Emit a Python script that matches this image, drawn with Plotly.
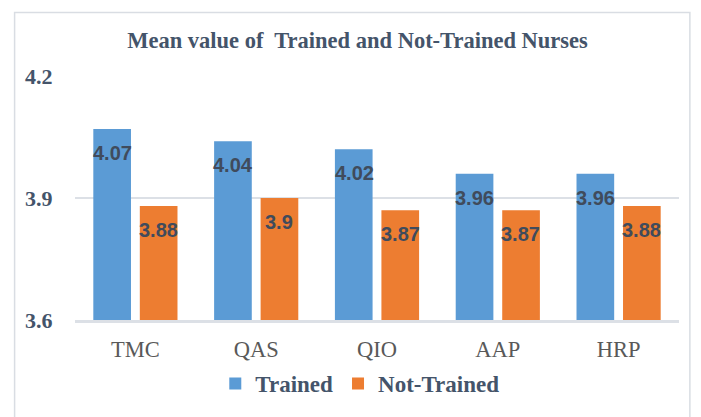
import plotly.graph_objects as go

categories = ["TMC", "QAS", "QIO", "AAP", "HRP"]
trained = [4.07, 4.04, 4.02, 3.96, 3.96]
not_trained = [3.88, 3.90, 3.87, 3.87, 3.88]
y_ticks = [3.6, 3.9, 4.2]
y_tick_labels = ["3.6", "3.9", "4.2"]

BLUE = "#5B9BD5"
ORANGE = "#ED7D31"
TXT = "#44546A"
GRID = "#DCE0E6"

fig = go.Figure()
fig.add_trace(go.Bar(name="Trained", x=categories, y=trained,
                     marker=dict(color=BLUE, line=dict(width=0))))
fig.add_trace(go.Bar(name="Not-Trained", x=categories, y=not_trained,
                     marker=dict(color=ORANGE, line=dict(width=0))))

label_font = dict(family="Liberation Sans", size=20, color="#404B5C", weight="bold")
annotations = []
for cat, v in zip(categories, trained):
    annotations.append(dict(x=cat, y=v, xref="x", yref="y", text=f"{v:g}",
                            showarrow=False, xshift=-23, yshift=-24,
                            yanchor="middle", font=label_font))
for cat, v in zip(categories, not_trained):
    annotations.append(dict(x=cat, y=v, xref="x", yref="y", text=f"{v:g}",
                            showarrow=False, xshift=23, yshift=-24,
                            yanchor="middle", font=label_font))

fig.update_layout(
    width=701, height=417,
    margin=dict(l=75, r=22, t=76, b=95),
    paper_bgcolor="white", plot_bgcolor="white",
    barmode="group", bargap=0.23, bargroupgap=0.19,
    title=dict(text="<b>Mean value of  Trained and Not-Trained Nurses</b>",
               x=0.51, xanchor="center", y=1 - 40 / 417, yanchor="middle",
               font=dict(family="Liberation Serif", size=22.5, color=TXT)),
    xaxis=dict(showgrid=False, showline=True, linecolor=GRID, linewidth=2.5,
               ticks="outside", ticklen=7, tickcolor="rgba(0,0,0,0)",
               tickfont=dict(family="Liberation Serif", size=22.5, color="#595959")),
    yaxis=dict(range=[3.5995, 4.2005], tickvals=y_ticks, ticktext=y_tick_labels,
               showgrid=True, gridcolor=GRID, gridwidth=1.5,
               zeroline=False, ticks="outside", ticklen=17,
               tickcolor="rgba(0,0,0,0)",
               tickfont=dict(family="Liberation Serif", size=22, color=TXT,
                             weight="bold")),
    legend=dict(orientation="h", x=0.4715, xanchor="center", y=-0.26,
                yanchor="middle", bgcolor="rgba(0,0,0,0)",
                font=dict(family="Liberation Serif", size=23, color=TXT,
                          weight="bold"),
                itemwidth=30, tracegroupgap=0),
    annotations=annotations,
    shapes=[dict(type="rect", xref="paper", yref="paper",
                 x0=-0.1, x1=1.018, y0=-0.41, y1=1.26,
                 line=dict(color="#D9DDE3", width=1.5), layer="below")],
    showlegend=True,
)

fig.write_html("out.html", config={"displayModeBar": False},
               post_script="document.body.style.margin='0';")
